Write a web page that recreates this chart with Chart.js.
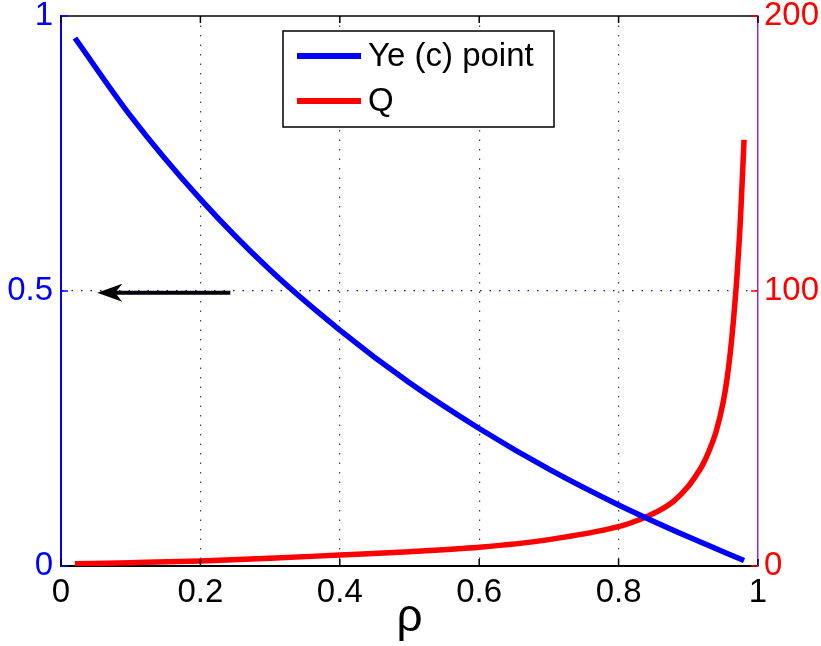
<!DOCTYPE html>
<html><head><meta charset="utf-8">
<script src="https://cdn.jsdelivr.net/npm/chart.js@4/dist/chart.umd.min.js"></script>
<style>html,body{margin:0;padding:0;background:#fff;}#wrap{width:821px;height:646px;}</style>
</head><body><div id="wrap"><canvas id="c" width="821" height="646"></canvas></div>
<script>
// ---- data ----
const rhoYe = [0.02, 0.1, 0.2, 0.3, 0.4, 0.5, 0.6, 0.7, 0.8, 0.9, 0.98];
const yeValues = [0.96, 0.818, 0.667, 0.538, 0.429, 0.333, 0.25, 0.176, 0.111, 0.053, 0.010];
const rhoQ = [0.02, 0.1, 0.2, 0.3, 0.4, 0.5, 0.6, 0.7, 0.8, 0.82, 0.84, 0.86, 0.88, 0.9, 0.91, 0.92, 0.93, 0.94, 0.95, 0.955, 0.96, 0.965, 0.97, 0.975, 0.98];
const qValues = [0.8, 1.2, 1.8, 2.8, 4.0, 5.2, 6.8, 9.6, 14.3, 15.9, 17.9, 20.4, 23.8, 29, 32.5, 36.5, 42, 49, 59.5, 67, 77, 90, 106, 127, 155];
const seriesLabels = ['Ye (c) point', 'Q'];
const xTicks = [0, 0.2, 0.4, 0.6, 0.8, 1];
const yLeftTicks = [0, 0.5, 1];
const yRightTicks = [0, 100, 200];
const xTitle = 'ρ';
const arrowFrom = 0.243, arrowTo = 0.052, arrowY = 0.497;

const FONT = "'Liberation Sans', Arial, Helvetica, sans-serif";
const BLUE = '#0000ff', RED = '#ff0000', PURPLE = '#8a2be2';
const transparent = 'rgba(0,0,0,0)';

const framePlugin = {
  id: 'frame',
  afterDraw(chart) {
    const {ctx, chartArea: a, scales} = chart;
    ctx.save();
    ctx.strokeStyle = '#000'; ctx.lineWidth = 1.5;
    ctx.beginPath(); ctx.moveTo(a.left, a.top); ctx.lineTo(a.right, a.top); ctx.stroke();
    ctx.lineWidth = 1.5;
    xTicks.forEach(v => {
      const px = scales.x.getPixelForValue(v);
      ctx.strokeStyle = '#000';
      ctx.beginPath(); ctx.moveTo(px, a.bottom); ctx.lineTo(px, a.bottom - 7); ctx.stroke();
      ctx.beginPath(); ctx.moveTo(px, a.top); ctx.lineTo(px, a.top + 7); ctx.stroke();
    });
    yLeftTicks.forEach(v => {
      const py = scales.y.getPixelForValue(v);
      ctx.strokeStyle = BLUE;
      ctx.beginPath(); ctx.moveTo(a.left, py); ctx.lineTo(a.left + 7, py); ctx.stroke();
    });
    yRightTicks.forEach(v => {
      const py = scales.y2.getPixelForValue(v);
      ctx.strokeStyle = RED;
      ctx.beginPath(); ctx.moveTo(a.right, py); ctx.lineTo(a.right - 7, py); ctx.stroke();
    });
    ctx.restore();
  }
};

const arrowPlugin = {
  id: 'arrow',
  afterDatasetsDraw(chart) {
    const {ctx, scales} = chart;
    const x0 = scales.x.getPixelForValue(arrowFrom);
    const x1 = scales.x.getPixelForValue(arrowTo);
    const y = scales.y.getPixelForValue(arrowY);
    ctx.save();
    ctx.strokeStyle = '#000'; ctx.fillStyle = '#000'; ctx.lineWidth = 4;
    ctx.beginPath(); ctx.moveTo(x0, y); ctx.lineTo(x1 + 14, y); ctx.stroke();
    ctx.beginPath();
    ctx.moveTo(x1, y);
    ctx.lineTo(x1 + 25, y - 9);
    ctx.lineTo(x1 + 18, y);
    ctx.lineTo(x1 + 25, y + 9);
    ctx.closePath(); ctx.fill();
    ctx.restore();
  }
};

const legendPlugin = {
  id: 'boxLegend',
  afterDraw(chart) {
    const {ctx} = chart;
    const bx = 283, by = 31, bw = 271, bh = 96;
    ctx.save();
    ctx.fillStyle = '#fff'; ctx.fillRect(bx, by, bw, bh);
    ctx.strokeStyle = '#000'; ctx.lineWidth = 1.5; ctx.strokeRect(bx, by, bw, bh);
    const rows = [56, 101];
    chart.data.datasets.forEach((ds, i) => {
      const yy = rows[i];
      ctx.strokeStyle = ds.borderColor; ctx.lineWidth = 6;
      ctx.beginPath(); ctx.moveTo(297, yy); ctx.lineTo(361, yy); ctx.stroke();
      ctx.fillStyle = '#000'; ctx.font = '33px ' + FONT;
      ctx.textBaseline = 'middle'; ctx.textAlign = 'left';
      ctx.fillText(ds.label, 368, yy + 1);
    });
    ctx.restore();
  }
};

new Chart(document.getElementById('c'), {
  type: 'line',
  data: {
    datasets: [
      { label: seriesLabels[0], data: rhoYe.map((r, i) => ({x: r, y: yeValues[i]})),
        borderColor: BLUE, borderWidth: 5.5, pointRadius: 0, yAxisID: 'y',
        cubicInterpolationMode: 'monotone', fill: false },
      { label: seriesLabels[1], data: rhoQ.map((r, i) => ({x: r, y: qValues[i]})),
        borderColor: RED, borderWidth: 5.5, pointRadius: 0, yAxisID: 'y2',
        cubicInterpolationMode: 'monotone', fill: false }
    ]
  },
  options: {
    responsive: false, animation: false, devicePixelRatio: 1,
    layout: { padding: { top: 16, left: 0, right: 0, bottom: 0 } },
    plugins: { legend: { display: false }, tooltip: { enabled: false } },
    scales: {
      x: {
        type: 'linear', min: 0, max: 1,
        afterBuildTicks: s => { s.ticks = xTicks.map(v => ({value: v})); },
        afterFit: s => { s.height = 80; s.paddingLeft = 0; s.paddingRight = 0; },
        ticks: { color: '#000', font: { family: FONT, size: 33 }, padding: 7, maxRotation: 0,
                 callback: v => String(v) },
        grid: { drawTicks: false, lineWidth: 1.2,
                color: c => (c.tick && c.tick.value > 0 && c.tick.value < 1) ? '#444' : transparent },
        border: { color: '#000', width: 2, dash: [1.5, 8] },
        title: { display: true, text: xTitle, color: '#000', font: { family: FONT, size: 46 },
                 padding: { top: 0, bottom: 0 } }
      },
      y: {
        type: 'linear', position: 'left', min: 0, max: 1,
        afterBuildTicks: s => { s.ticks = yLeftTicks.map(v => ({value: v})); },
        afterFit: s => { s.width = 61; s.paddingTop = 0; s.paddingBottom = 0; },
        ticks: { color: BLUE, font: { family: FONT, size: 33 }, padding: 8, callback: v => String(v) },
        grid: { drawTicks: false, lineWidth: 1.2,
                color: c => (c.tick && c.tick.value === 0.5) ? BLUE : transparent },
        border: { color: BLUE, width: 2, dash: [1.5, 8] }
      },
      y2: {
        type: 'linear', position: 'right', min: 0, max: 200,
        afterBuildTicks: s => { s.ticks = yRightTicks.map(v => ({value: v})); },
        afterFit: s => { s.width = 63; s.paddingTop = 0; s.paddingBottom = 0; },
        ticks: { color: RED, font: { family: FONT, size: 33 }, padding: 6, callback: v => String(v) },
        grid: { display: false, drawTicks: false },
        border: { color: PURPLE, width: 1.5 }
      }
    }
  },
  plugins: [framePlugin, arrowPlugin, legendPlugin]
});
</script>
</body></html>
